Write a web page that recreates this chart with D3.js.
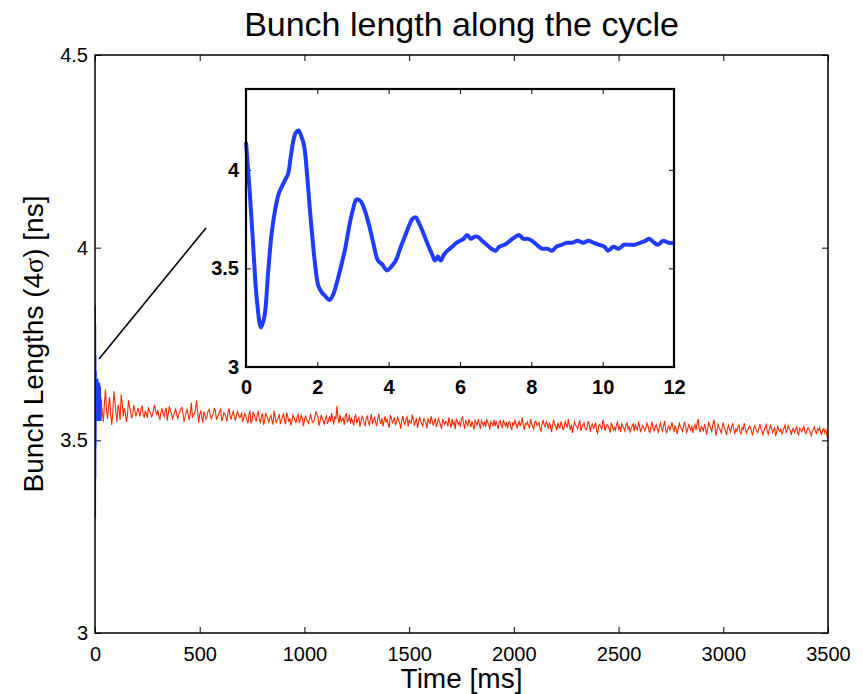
<!DOCTYPE html>
<html>
<head>
<meta charset="utf-8">
<script src="https://cdn.jsdelivr.net/npm/d3@7"></script>
<style>
    body { margin: 0; background: #fff; }
    text { font-family: "Liberation Sans", Arial, Helvetica, sans-serif; }
</style>
</head>
<body>
<div id="chart"></div>
<script>
// ---- data ----
const xTicks = [0, 500, 1000, 1500, 2000, 2500, 3000, 3500];
const yTicks = [3, 3.5, 4, 4.5];
const insetXTicks = [0, 2, 4, 6, 8, 10, 12];
const insetYTicks = [3, 3.5, 4];

// first ms of the cycle (blue, zoomed in the inset)
const insetTimes = [0, 0.1, 0.2, 0.3, 0.42, 0.52, 0.62, 0.72, 0.82, 0.92, 1.02, 1.1, 1.18, 1.25, 1.33, 1.4, 1.47, 1.55,
    1.63, 1.72, 1.8, 1.88, 1.95, 2.03, 2.12, 2.22, 2.34, 2.45, 2.55, 2.65, 2.78, 2.9, 3.0, 3.1, 3.22, 3.32, 3.45, 3.58,
    3.7, 3.82, 3.95, 4.08, 4.2, 4.32, 4.45, 4.58, 4.66, 4.75, 4.85, 4.97, 5.1, 5.22, 5.3, 5.38, 5.46, 5.55, 5.65, 5.78,
    5.9, 6.0, 6.1, 6.2, 6.3, 6.4, 6.5, 6.62, 6.75, 6.88, 7.0, 7.1, 7.25, 7.4, 7.55, 7.65, 7.78, 7.9, 8.02, 8.15, 8.3,
    8.45, 8.58, 8.7, 8.85, 9.0, 9.15, 9.3, 9.45, 9.6, 9.75, 9.9, 10.05, 10.15, 10.3, 10.45, 10.6, 10.75, 10.9, 11.05,
    11.2, 11.3, 11.45, 11.55, 11.7, 11.85, 12.0];
const insetValues = [4.14, 3.9, 3.62, 3.35, 3.2, 3.26, 3.48, 3.68, 3.8, 3.88, 3.92, 3.95, 3.98, 4.06, 4.15, 4.19, 4.2, 4.17,
    4.12, 3.96, 3.78, 3.62, 3.5, 3.41, 3.38, 3.36, 3.34, 3.37, 3.43, 3.5, 3.6, 3.72, 3.8, 3.85, 3.84, 3.8, 3.72, 3.62,
    3.54, 3.52, 3.49, 3.51, 3.54, 3.6, 3.66, 3.72, 3.75, 3.76, 3.73, 3.68, 3.62, 3.57, 3.54, 3.56, 3.54, 3.57, 3.59, 3.61,
    3.63, 3.64, 3.65, 3.67, 3.65, 3.66, 3.66, 3.64, 3.62, 3.6, 3.59, 3.61, 3.62, 3.64, 3.66, 3.67, 3.65, 3.65, 3.64, 3.62, 3.6,
    3.6, 3.59, 3.61, 3.62, 3.63, 3.63, 3.64, 3.63, 3.64, 3.63, 3.62, 3.61, 3.59, 3.61, 3.6, 3.62, 3.62, 3.62, 3.63,
    3.64, 3.65, 3.63, 3.62, 3.64, 3.63, 3.63];

// blue start as drawn in the main axes
const startTimes = [0, 0.4, 1, 1.5, 2.2, 3, 4, 5, 6, 7, 8, 9, 10, 11, 12, 13, 14, 15, 16, 17, 18, 19, 20, 21, 22, 23, 24, 25, 26, 27, 28];
const startValues = [3.85, 3.3, 3.8, 3.4, 3.72, 3.48, 3.68, 3.55, 3.66, 3.56, 3.65, 3.57, 3.64, 3.55, 3.66, 3.56, 3.65,
    3.58, 3.64, 3.55, 3.63, 3.57, 3.65, 3.56, 3.62, 3.55, 3.64, 3.57, 3.61, 3.55, 3.58];

// red: rest of the cycle, one sample every 5 ms from 30 ms
const redStart = 30, redStep = 5;
const redValues = [
    3.605, 3.571, 3.548, 3.596, 3.632, 3.578, 3.556, 3.589, 3.612, 3.566,
    3.540, 3.573, 3.627, 3.601, 3.571, 3.548, 3.592, 3.580, 3.553, 3.618,
    3.597, 3.562, 3.583, 3.571, 3.548, 3.566, 3.604, 3.589, 3.575, 3.557,
    3.566, 3.591, 3.579, 3.562, 3.571, 3.584, 3.573, 3.562, 3.581, 3.590,
    3.568, 3.559, 3.577, 3.569, 3.559, 3.586, 3.575, 3.573, 3.561, 3.565,
    3.583, 3.592, 3.575, 3.566, 3.579, 3.562, 3.555, 3.573, 3.583, 3.569,
    3.562, 3.576, 3.585, 3.551, 3.570, 3.588, 3.577, 3.570, 3.556, 3.563,
    3.574, 3.581, 3.568, 3.557, 3.566, 3.575, 3.582, 3.585, 3.569, 3.548,
    3.561, 3.572, 3.580, 3.566, 3.553, 3.572, 3.598, 3.559, 3.568, 3.569,
    3.581, 3.603, 3.574, 3.546, 3.568, 3.578, 3.560, 3.546, 3.574, 3.566,
    3.555, 3.562, 3.577, 3.580, 3.566, 3.556, 3.564, 3.570, 3.584, 3.575,
    3.553, 3.561, 3.567, 3.575, 3.581, 3.549, 3.558, 3.571, 3.568, 3.560,
    3.549, 3.573, 3.583, 3.564, 3.554, 3.568, 3.575, 3.562, 3.551, 3.562,
    3.575, 3.568, 3.559, 3.561, 3.572, 3.548, 3.557, 3.570, 3.563, 3.553,
    3.544, 3.566, 3.577, 3.544, 3.551, 3.574, 3.567, 3.557, 3.549, 3.568,
    3.574, 3.552, 3.547, 3.563, 3.570, 3.540, 3.552, 3.571, 3.563, 3.556,
    3.547, 3.559, 3.565, 3.551, 3.541, 3.577, 3.562, 3.545, 3.553, 3.559,
    3.568, 3.542, 3.551, 3.561, 3.570, 3.550, 3.542, 3.572, 3.563, 3.548,
    3.557, 3.539, 3.548, 3.566, 3.559, 3.553, 3.545, 3.562, 3.567, 3.545,
    3.553, 3.565, 3.558, 3.537, 3.551, 3.564, 3.555, 3.549, 3.544, 3.558,
    3.569, 3.552, 3.546, 3.549, 3.561, 3.575, 3.566, 3.560, 3.538, 3.550,
    3.566, 3.556, 3.550, 3.542, 3.557, 3.563, 3.543, 3.551, 3.563, 3.548,
    3.571, 3.556, 3.541, 3.562, 3.555, 3.589, 3.560, 3.544, 3.566, 3.549,
    3.553, 3.558, 3.540, 3.563, 3.570, 3.548, 3.552, 3.566, 3.543, 3.557,
    3.549, 3.539, 3.560, 3.566, 3.544, 3.554, 3.561, 3.535, 3.549, 3.562,
    3.557, 3.544, 3.538, 3.558, 3.563, 3.547, 3.540, 3.556, 3.568, 3.542,
    3.552, 3.561, 3.546, 3.537, 3.556, 3.569, 3.552, 3.543, 3.558, 3.536,
    3.549, 3.562, 3.548, 3.554, 3.541, 3.533, 3.566, 3.558, 3.546, 3.551,
    3.560, 3.539, 3.547, 3.560, 3.552, 3.544, 3.530, 3.551, 3.563, 3.547,
    3.541, 3.556, 3.561, 3.536, 3.552, 3.548, 3.545, 3.567, 3.554, 3.538,
    3.549, 3.558, 3.532, 3.546, 3.561, 3.550, 3.543, 3.537, 3.558, 3.551,
    3.546, 3.531, 3.555, 3.549, 3.542, 3.563, 3.551, 3.538, 3.549, 3.557,
    3.534, 3.545, 3.557, 3.548, 3.540, 3.529, 3.556, 3.548, 3.541, 3.549,
    3.547, 3.536, 3.560, 3.545, 3.533, 3.555, 3.541, 3.547, 3.529, 3.556,
    3.549, 3.541, 3.547, 3.535, 3.556, 3.560, 3.543, 3.530, 3.551, 3.545,
    3.538, 3.555, 3.546, 3.534, 3.549, 3.540, 3.528, 3.552, 3.546, 3.538,
    3.555, 3.543, 3.530, 3.551, 3.545, 3.538, 3.549, 3.534, 3.555, 3.546,
    3.541, 3.528, 3.549, 3.544, 3.538, 3.553, 3.536, 3.549, 3.541, 3.529,
    3.546, 3.551, 3.538, 3.533, 3.553, 3.544, 3.537, 3.548, 3.531, 3.546,
    3.549, 3.533, 3.528, 3.547, 3.538, 3.552, 3.545, 3.531, 3.541, 3.549,
    3.536, 3.545, 3.559, 3.540, 3.527, 3.544, 3.541, 3.548, 3.537, 3.533,
    3.556, 3.542, 3.536, 3.529, 3.547, 3.550, 3.538, 3.541, 3.546, 3.530,
    3.524, 3.543, 3.553, 3.539, 3.535, 3.548, 3.542, 3.530, 3.546, 3.537,
    3.521, 3.540, 3.553, 3.541, 3.537, 3.526, 3.546, 3.534, 3.532, 3.549,
    3.540, 3.526, 3.535, 3.549, 3.541, 3.533, 3.555, 3.538, 3.528, 3.541,
    3.519, 3.536, 3.548, 3.539, 3.536, 3.530, 3.544, 3.552, 3.524, 3.535,
    3.539, 3.545, 3.531, 3.527, 3.534, 3.550, 3.541, 3.522, 3.538, 3.542,
    3.531, 3.536, 3.546, 3.524, 3.518, 3.537, 3.541, 3.535, 3.528, 3.553,
    3.546, 3.525, 3.533, 3.541, 3.537, 3.530, 3.520, 3.544, 3.539, 3.527,
    3.533, 3.526, 3.541, 3.548, 3.529, 3.536, 3.522, 3.543, 3.537, 3.531,
    3.524, 3.540, 3.545, 3.529, 3.536, 3.522, 3.530, 3.538, 3.543, 3.524,
    3.540, 3.533, 3.527, 3.546, 3.539, 3.521, 3.531, 3.538, 3.534, 3.525,
    3.531, 3.545, 3.539, 3.524, 3.520, 3.538, 3.548, 3.530, 3.525, 3.536,
    3.541, 3.528, 3.521, 3.537, 3.545, 3.531, 3.524, 3.538, 3.550, 3.526,
    3.520, 3.533, 3.538, 3.527, 3.535, 3.547, 3.531, 3.522, 3.539, 3.530,
    3.517, 3.532, 3.544, 3.536, 3.529, 3.523, 3.536, 3.548, 3.535, 3.521,
    3.529, 3.543, 3.532, 3.526, 3.538, 3.519, 3.533, 3.541, 3.527, 3.545,
    3.555, 3.530, 3.521, 3.536, 3.532, 3.525, 3.540, 3.534, 3.515, 3.528,
    3.548, 3.538, 3.530, 3.523, 3.541, 3.553, 3.537, 3.512, 3.526, 3.541,
    3.533, 3.527, 3.519, 3.534, 3.546, 3.531, 3.525, 3.514, 3.531, 3.539,
    3.528, 3.522, 3.536, 3.543, 3.527, 3.518, 3.530, 3.524, 3.536, 3.540,
    3.521, 3.516, 3.533, 3.528, 3.545, 3.532, 3.519, 3.526, 3.529, 3.537,
    3.535, 3.522, 3.513, 3.529, 3.538, 3.531, 3.524, 3.520, 3.531, 3.542,
    3.529, 3.522, 3.515, 3.527, 3.534, 3.541, 3.524, 3.516, 3.530, 3.539,
    3.532, 3.520, 3.526, 3.534, 3.511, 3.522, 3.536, 3.528, 3.523, 3.529,
    3.517, 3.524, 3.533, 3.540, 3.521, 3.527, 3.538, 3.530, 3.525, 3.514,
    3.528, 3.531, 3.520, 3.527, 3.537, 3.519, 3.514, 3.531, 3.526, 3.522,
    3.530, 3.536, 3.521, 3.517, 3.527, 3.533, 3.528, 3.520, 3.512, 3.524,
    3.529, 3.535, 3.523, 3.518, 3.530, 3.526, 3.534, 3.521, 3.515, 3.528,
    3.531, 3.519, 3.527, 3.512, 3.503
];

// pointer from the start of the cycle towards the inset (data coords of main axes)
const pointerTimes = [19, 530];
const pointerValues = [3.711, 4.051];

// ---- drawing ----
const width = 863, height = 694;
const blue = "#1e3cff", red = "#ff2a00";

const svg = d3.select("#chart")
    .append("svg")
    .attr("width", width)
    .attr("height", height);

const x = d3.scaleLinear().domain([0, 3500]).range([95, 828]);
const y = d3.scaleLinear().domain([3, 4.5]).range([633, 55]);

const defs = svg.append("defs");
defs.append("clipPath").attr("id", "main-clip")
    .append("rect")
    .attr("x", x(0)).attr("y", y(4.5))
    .attr("width", x(3500) - x(0)).attr("height", y(3) - y(4.5));

const tickStyle = (g, size) => {
    g.select(".domain").remove();
    g.selectAll(".tick line").attr("stroke", "#000").attr("stroke-width", 1);
    g.selectAll(".tick text").attr("fill", "#000").style("font-size", size);
};

// main axes ticks (inside, mirrored)
svg.append("g")
    .attr("transform", `translate(0, ${y(3)})`)
    .call(d3.axisBottom(x).tickValues(xTicks).tickSize(-6).tickPadding(14).tickFormat(d3.format("d")))
    .call(g => tickStyle(g, "20px"));
svg.append("g")
    .attr("transform", `translate(0, ${y(4.5)})`)
    .call(d3.axisTop(x).tickValues(xTicks).tickSize(-6).tickFormat(""))
    .call(g => tickStyle(g, "20px"));
svg.append("g")
    .attr("transform", `translate(${x(0)}, 0)`)
    .call(d3.axisLeft(y).tickValues(yTicks).tickSize(-6).tickPadding(7).tickFormat(d => d))
    .call(g => tickStyle(g, "20px"));
svg.append("g")
    .attr("transform", `translate(${x(3500)}, 0)`)
    .call(d3.axisRight(y).tickValues(yTicks).tickSize(-6).tickFormat(""))
    .call(g => tickStyle(g, "20px"));

const plot = svg.append("g").attr("clip-path", "url(#main-clip)");

const redData = redValues.map((v, i) => ({ t: redStart + i * redStep, v: v }));
const startData = startTimes.map((t, i) => ({ t: t, v: startValues[i] }));

const mainLine = d3.line().x(d => x(d.t)).y(d => y(d.v));

plot.append("path")
    .attr("d", mainLine(redData))
    .attr("fill", "none")
    .attr("stroke", red)
    .attr("stroke-width", 1.1);

plot.append("path")
    .attr("d", mainLine(startData))
    .attr("fill", "none")
    .attr("stroke", blue)
    .attr("stroke-width", 2);

// frame
svg.append("rect")
    .attr("x", x(0)).attr("y", y(4.5))
    .attr("width", x(3500) - x(0)).attr("height", y(3) - y(4.5))
    .attr("fill", "none")
    .attr("stroke", "#000")
    .attr("stroke-width", 1.5);

// pointer line
svg.append("path")
    .attr("d", mainLine(pointerTimes.map((t, i) => ({ t: t, v: pointerValues[i] }))))
    .attr("stroke", "#000")
    .attr("stroke-width", 1.6)
    .attr("fill", "none");

// title and labels
svg.append("text")
    .attr("x", (x(0) + x(3500)) / 2)
    .attr("y", 36)
    .attr("text-anchor", "middle")
    .style("font-size", "34px")
    .text("Bunch length along the cycle");

svg.append("text")
    .attr("x", (x(0) + x(3500)) / 2)
    .attr("y", 688)
    .attr("text-anchor", "middle")
    .style("font-size", "28px")
    .text("Time [ms]");

const yLabel = svg.append("text")
    .attr("transform", `translate(43, ${(y(3) + y(4.5)) / 2}) rotate(-90)`)
    .attr("text-anchor", "middle")
    .style("font-size", "28px");
yLabel.append("tspan").text("Bunch Lengths (4");
yLabel.append("tspan").style("font-family", "'Liberation Serif', 'DejaVu Serif', serif").text("σ");
yLabel.append("tspan").text(") [ns]");

// ---- inset ----
const ix = d3.scaleLinear().domain([0, 12]).range([246, 674]);
const iy = d3.scaleLinear().domain([3, 4.41]).range([367, 89]);

const inset = svg.append("g").attr("class", "inset");

inset.append("rect")
    .attr("x", ix(0)).attr("y", iy(4.41))
    .attr("width", ix(12) - ix(0)).attr("height", iy(3) - iy(4.41))
    .attr("fill", "#fff");

const insetTick = g => {
    tickStyle(g, "20px");
    g.selectAll(".tick text").style("font-weight", "bold");
};

inset.append("g")
    .attr("transform", `translate(0, ${iy(3)})`)
    .call(d3.axisBottom(ix).tickValues(insetXTicks).tickSize(-5).tickPadding(13).tickFormat(d => d))
    .call(insetTick);
inset.append("g")
    .attr("transform", `translate(0, ${iy(4.41)})`)
    .call(d3.axisTop(ix).tickValues(insetXTicks).tickSize(-5).tickFormat(""))
    .call(insetTick);
inset.append("g")
    .attr("transform", `translate(${ix(0)}, 0)`)
    .call(d3.axisLeft(iy).tickValues(insetYTicks).tickSize(-5).tickPadding(7).tickFormat(d => d))
    .call(insetTick);
inset.append("g")
    .attr("transform", `translate(${ix(12)}, 0)`)
    .call(d3.axisRight(iy).tickValues(insetYTicks).tickSize(-5).tickFormat(""))
    .call(insetTick);

const insetData = insetTimes.map((t, i) => ({ t: t, v: insetValues[i] }));

inset.append("path")
    .attr("d", d3.line().x(d => ix(d.t)).y(d => iy(d.v)).curve(d3.curveCatmullRom.alpha(0.5))(insetData))
    .attr("fill", "none")
    .attr("stroke", blue)
    .attr("stroke-width", 4)
    .attr("stroke-linejoin", "round");

inset.append("rect")
    .attr("x", ix(0)).attr("y", iy(4.41))
    .attr("width", ix(12) - ix(0)).attr("height", iy(3) - iy(4.41))
    .attr("fill", "none")
    .attr("stroke", "#000")
    .attr("stroke-width", 2.2);
</script>
</body>
</html>
